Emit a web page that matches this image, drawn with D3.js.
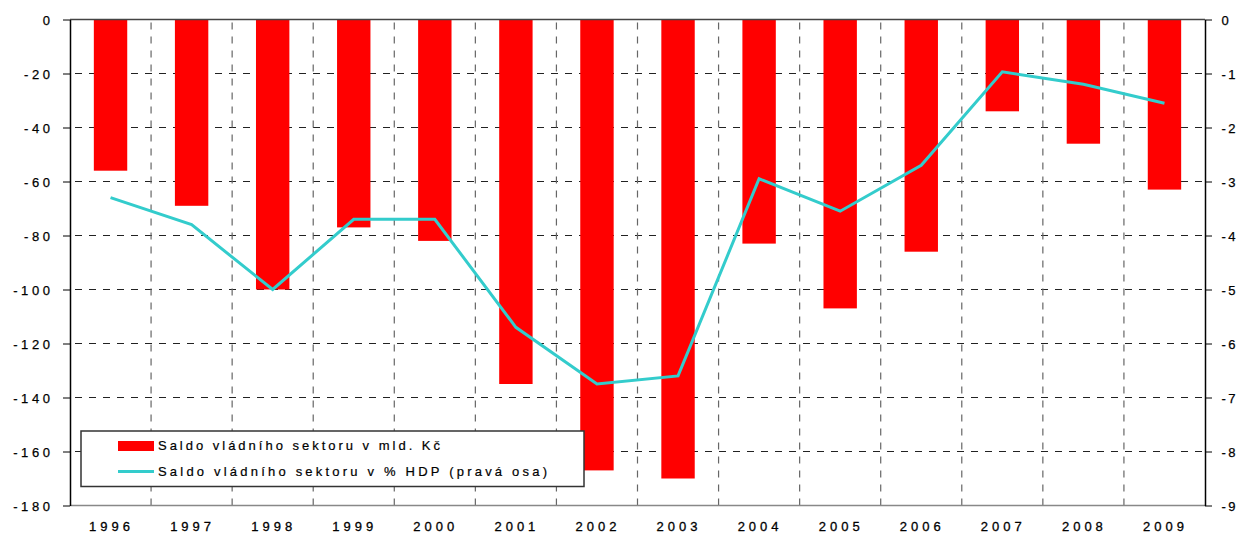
<!DOCTYPE html>
<html><head><meta charset="utf-8">
<script src="https://cdn.jsdelivr.net/npm/d3@7"></script>
<style>body{margin:0;background:#fff}svg{display:block}</style>
</head><body>
<svg id="c" width="1239" height="533"></svg>
<script>
const years = ["1996","1997","1998","1999","2000","2001","2002","2003","2004","2005","2006","2007","2008","2009"];
const saldoMld = [-56, -69, -100, -77, -82, -135, -167, -170, -83, -107, -86, -34, -46, -63];
const saldoPct = [-3.3, -3.8, -5.0, -3.7, -3.7, -5.7, -6.75, -6.6, -2.95, -3.55, -2.7, -0.97, -1.2, -1.55];
const leftTicks = [0,-20,-40,-60,-80,-100,-120,-140,-160,-180];
const rightTicks = [0,-1,-2,-3,-4,-5,-6,-7,-8,-9];
const legendLabels = ["Saldo vládního sektoru v mld. Kč","Saldo vládního sektoru v % HDP (pravá osa)"];

const L=70, R=1205, T=19.5, B=505.5;
const svg = d3.select("#c");
const x0 = d3.scaleBand().domain(years).range([L,R]).padding(0);
const step = x0.step(), bw = 33.4;
const yL = d3.scaleLinear().domain([-180,0]).range([B,T]);
const yR = d3.scaleLinear().domain([-9,0]).range([B,T]);
const font = "'Liberation Sans', Arial, sans-serif";
const fmt = d => String(d);

// horizontal gridlines
svg.append("g").selectAll("line").data(leftTicks.filter(d=>d!==0 && d!==-180)).join("line")
  .attr("x1",L).attr("x2",R).attr("y1",d=>yL(d)).attr("y2",d=>yL(d))
  .attr("stroke","#222").attr("stroke-width",1).attr("stroke-dasharray","7,7").attr("stroke-dashoffset",-5);
// vertical gridlines
svg.append("g").selectAll("line").data(years.slice(1)).join("line")
  .attr("x1",d=>x0(d)).attr("x2",d=>x0(d)).attr("y1",T).attr("y2",B)
  .attr("stroke","#666").attr("stroke-width",1.2).attr("stroke-dasharray","7,7").attr("stroke-dashoffset",-3);

// bars
svg.append("g").selectAll("rect").data(years).join("rect")
  .attr("x",d=>x0(d)+(step-bw)/2).attr("width",bw)
  .attr("y",yL(0)).attr("height",(d,i)=>yL(saldoMld[i])-yL(0))
  .attr("fill","#FF0000");

// line
svg.append("path").datum(saldoPct)
  .attr("d", d3.line().x((d,i)=>x0(years[i])+step/2).y(d=>yR(d)))
  .attr("fill","none").attr("stroke","#33CCCC").attr("stroke-width",3).attr("stroke-linejoin","miter");

// frame lines
svg.append("line").attr("x1",L).attr("x2",R).attr("y1",T).attr("y2",T).attr("stroke","#444").attr("stroke-width",1.3);
svg.append("line").attr("x1",L).attr("x2",R).attr("y1",B).attr("y2",B).attr("stroke","#888").attr("stroke-width",1.3);

// left axis
const gl = svg.append("g").attr("transform",`translate(${L},0)`)
  .call(d3.axisLeft(yL).tickValues(leftTicks).tickFormat(fmt).tickSize(7).tickSizeOuter(0).tickPadding(13));
gl.select(".domain").attr("stroke","#000").attr("stroke-width",1.5);
gl.selectAll(".tick line").attr("stroke","#000");
gl.selectAll("text").attr("font-family",font).attr("font-size",13).attr("fill","#000")
  .attr("stroke","#000").attr("stroke-width",0.25)
  .attr("letter-spacing","3.6px").attr("dy","0.35em").attr("dx","3.6px");

// right axis
const gr = svg.append("g").attr("transform",`translate(${R},0)`)
  .call(d3.axisRight(yR).tickValues(rightTicks).tickFormat(fmt).tickSize(7).tickSizeOuter(0).tickPadding(9.5));
gr.select(".domain").attr("stroke","#000").attr("stroke-width",1.5);
gr.selectAll(".tick line").attr("stroke","#000");
gr.selectAll("text").attr("font-family",font).attr("font-size",13).attr("fill","#000")
  .attr("stroke","#000").attr("stroke-width",0.25)
  .attr("letter-spacing","2.5px").attr("dy","0.35em");

// x labels
svg.append("g").selectAll("text").data(years).join("text")
  .attr("x",d=>x0(d)+step/2+1).attr("y",531)
  .attr("text-anchor","middle").attr("font-family",font).attr("font-size",13)
  .attr("stroke","#000").attr("stroke-width",0.3)
  .attr("letter-spacing","4px").attr("fill","#000").text(d=>d);

// legend
const lg = svg.append("g");
lg.append("rect").attr("x",81).attr("y",431).attr("width",503).attr("height",55.5)
  .attr("fill","#fff").attr("stroke","#333").attr("stroke-width",1.5);
lg.append("rect").attr("x",118).attr("y",441).attr("width",36).attr("height",10).attr("fill","#FF0000");
lg.append("line").attr("x1",118).attr("x2",154).attr("y1",471.5).attr("y2",471.5).attr("stroke","#33CCCC").attr("stroke-width",3);
lg.selectAll("text.lt").data(legendLabels).join("text").attr("class","lt")
  .attr("x",158).attr("y",(d,i)=>i===0?450:476)
  .attr("font-family",font).attr("font-size",13).attr("fill","#000")
  .attr("stroke","#000").attr("stroke-width",0.2)
  .attr("textLength",(d,i)=>i===0?282:389).attr("lengthAdjust","spacing")
  .text(d=>d);
</script>
</body></html>
